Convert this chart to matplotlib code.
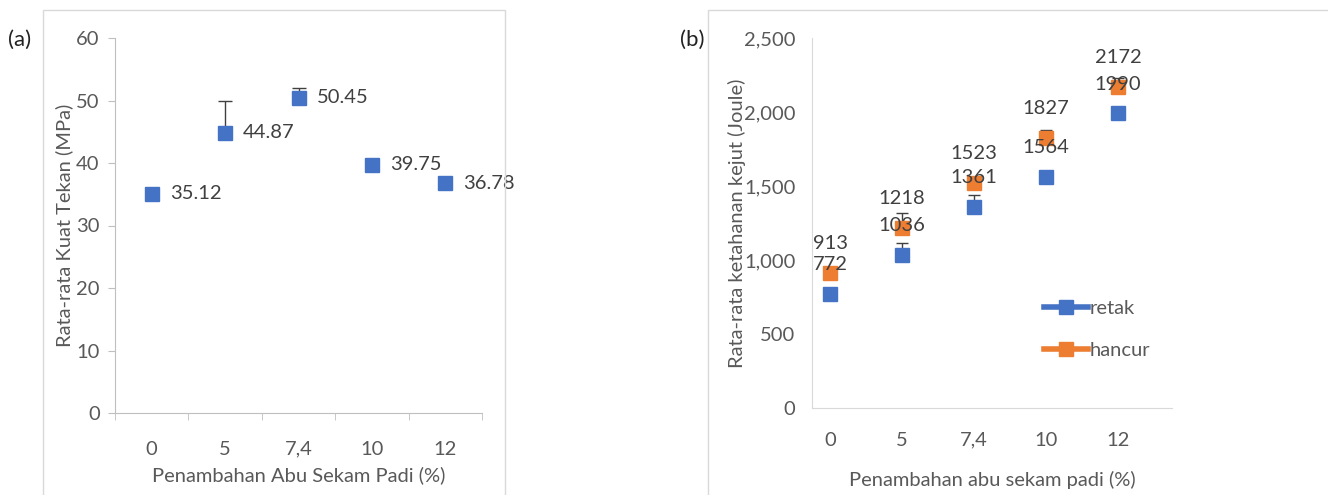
import numpy as np
import matplotlib.pyplot as plt
from matplotlib.patches import Rectangle

# data
categories = ['0', '5', '7,4', '10', '12']
kuat_tekan = [35.12, 44.87, 50.45, 39.75, 36.78]
kuat_tekan_err = [0, 5.1, 1.5, 0, 0]
retak = [772, 1036, 1361, 1564, 1990]
retak_err = [40, 80, 80, 0, 0]
hancur = [913, 1218, 1523, 1827, 2172]
hancur_err = [0, 100, 0, 50, 55]

blue = '#4472C4'
orange = '#ED7D31'
txt = '#595959'
axcol = '#BFBFBF'
fs = 14.5

plt.rcParams['font.family'] = ['Lato', 'DejaVu Sans']

fig = plt.figure(figsize=(13.28, 4.95), dpi=100)
W, H = 1328, 495

# panel frames
fig.patches.append(Rectangle((43 / W, -0.1), 462 / W, 1.1 - 10 / H, transform=fig.transFigure,
                             fill=False, edgecolor='#D9D9D9', lw=1))
fig.patches.append(Rectangle((708 / W, -0.1), 700 / W, 1.1 - 10 / H, transform=fig.transFigure,
                             fill=False, edgecolor='#D9D9D9', lw=1))

x = np.arange(len(categories))

# ---- panel (a)
ax1 = fig.add_axes([115 / W, 1 - 413 / H, 367 / W, 375 / H])
ax1.errorbar(x, kuat_tekan, yerr=[np.zeros(5), kuat_tekan_err], fmt='s', color=blue,
             ms=10, ecolor='#404040', elinewidth=1, capsize=5, capthick=1)
for xi, v in zip(x, kuat_tekan):
    ax1.annotate('%.2f' % v, (xi, v), xytext=(13, 0), textcoords='offset points',
                 va='center', ha='left', fontsize=fs, color='#404040')
ax1.set_xlim(-0.5, 4.5)
ax1.set_ylim(0, 60)
ax1.set_yticks(range(0, 61, 10))
ax1.set_xticks(x)
ax1.set_xticklabels(categories)
ax1.set_xticks(np.arange(-0.5, 4.6, 1), minor=True)
ax1.tick_params(axis='x', which='major', length=0, pad=20, labelsize=fs, labelcolor=txt)
ax1.tick_params(axis='x', which='minor', length=5, color=axcol, direction='out')
ax1.tick_params(axis='y', length=5, color=axcol, pad=6, labelsize=fs, labelcolor=txt)
ax1.set_xlabel('Penambahan Abu Sekam Padi (%)', fontsize=fs, color=txt, labelpad=6)
ax1.set_ylabel('Rata-rata Kuat Tekan (MPa)', fontsize=fs, color=txt)
ax1.yaxis.set_label_coords((73 - 115) / 367, 0.5)
for s in ['top', 'right']:
    ax1.spines[s].set_visible(False)
for s in ['left', 'bottom']:
    ax1.spines[s].set_color(axcol)
fig.text(8 / W, 1 - 40 / H, '(a)', fontsize=16, color='#222222', va='center')

# ---- panel (b)
ax2 = fig.add_axes([812 / W, 1 - 408 / H, 360 / W, 370 / H])
ax2.errorbar(x, retak, yerr=[np.zeros(5), retak_err], fmt='s', color=blue, ms=10,
             ecolor='#404040', elinewidth=1, capsize=4, capthick=1)
ax2.errorbar(x, hancur, yerr=[np.zeros(5), hancur_err], fmt='s', color=orange, ms=10,
             ecolor='#404040', elinewidth=1, capsize=4, capthick=1)
for xi, v in zip(x, retak):
    ax2.annotate(str(v), (xi, v), xytext=(0, 15), textcoords='offset points',
                 ha='center', va='bottom', fontsize=fs, color='#404040')
for xi, v in zip(x, hancur):
    ax2.annotate(str(v), (xi, v), xytext=(0, 15), textcoords='offset points',
                 ha='center', va='bottom', fontsize=fs, color='#404040')
ax2.set_xlim(-0.25, 4.75)
ax2.set_ylim(0, 2500)
ax2.set_yticks(range(0, 2501, 500))
ax2.set_yticklabels(['{:,}'.format(t) for t in range(0, 2501, 500)])
ax2.set_xticks(x)
ax2.set_xticklabels(categories)
ax2.tick_params(axis='x', length=0, pad=17, labelsize=fs, labelcolor=txt)
ax2.tick_params(axis='y', length=0, pad=12, labelsize=fs, labelcolor=txt)
ax2.set_xlabel('Penambahan abu sekam padi (%)', fontsize=fs, color=txt, labelpad=16)
ax2.set_ylabel('Rata-rata ketahanan kejut (Joule)', fontsize=fs, color=txt)
ax2.yaxis.set_label_coords((746 - 812) / 360, 0.5)
for s in ['top', 'right']:
    ax2.spines[s].set_visible(False)
for s in ['left', 'bottom']:
    ax2.spines[s].set_color('#D9D9D9')
h1, = ax2.plot([], [], '-s', color=blue, lw=4, ms=10, label='retak')
h2, = ax2.plot([], [], '-s', color=orange, lw=4, ms=10, label='hancur')
ax2.legend(handles=[h1, h2], loc='upper left', bbox_to_anchor=(1026 / W, 1 - 282 / H),
           bbox_transform=fig.transFigure, frameon=False, fontsize=fs, handlelength=2.2,
           handletextpad=0.05, labelspacing=1.25, labelcolor=txt)
fig.text(680 / W, 1 - 40 / H, '(b)', fontsize=16, color='#222222', va='center')

fig.savefig('out.png', dpi=100)
